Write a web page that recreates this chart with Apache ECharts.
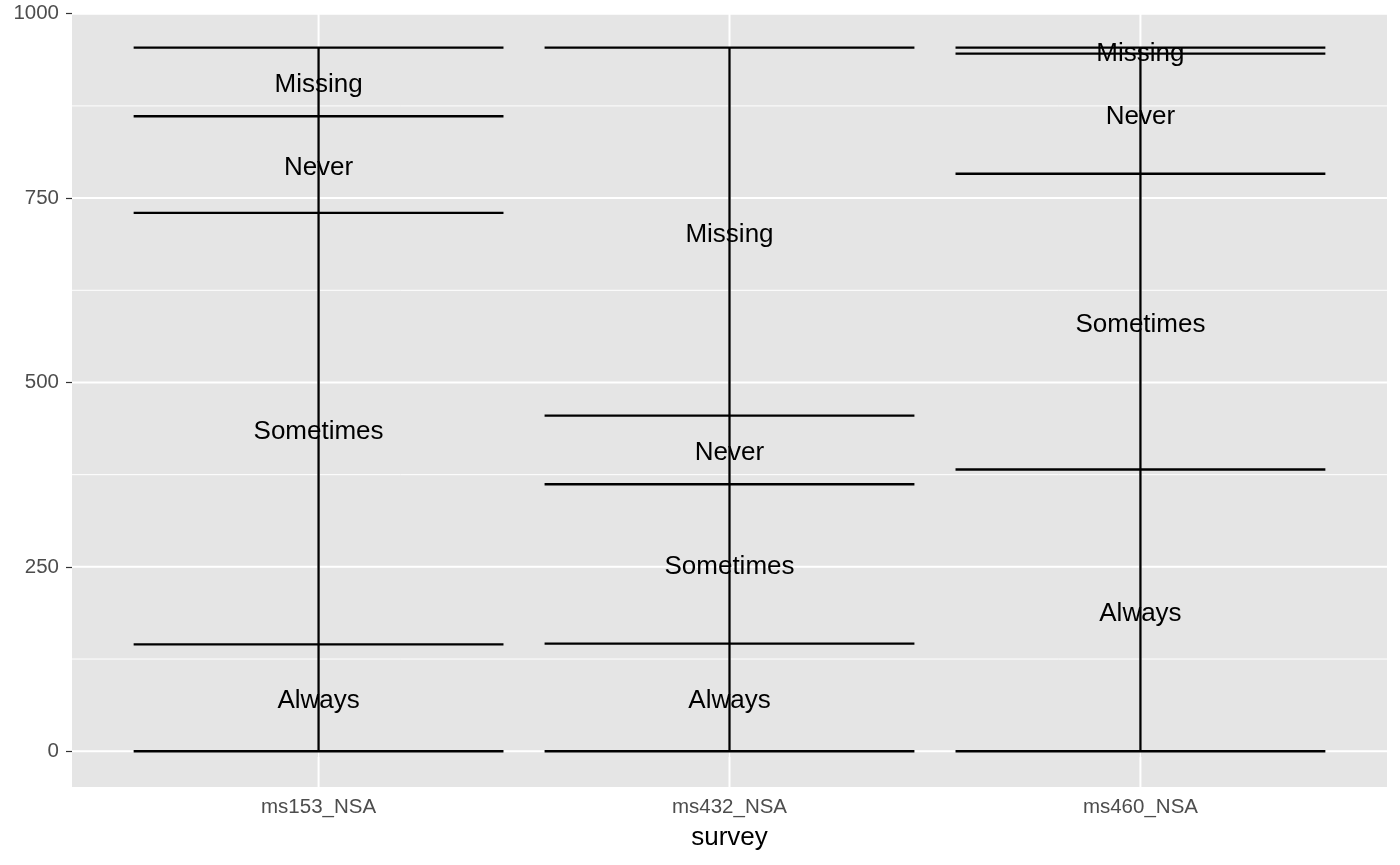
<!DOCTYPE html>
<html>
<head>
<meta charset="utf-8">
<script src="https://cdn.jsdelivr.net/npm/echarts@6/dist/echarts.min.js"></script>
<style>html,body{margin:0;padding:0;background:#fff}#c{width:1400px;height:865px}</style>
</head>
<body>
<div id="c"></div>
<script>
const surveys = ['ms153_NSA', 'ms432_NSA', 'ms460_NSA'];
const responses = ['Always', 'Sometimes', 'Never', 'Missing'];
const always = [145, 146, 382];
const sometimes = [585, 216, 401];
const never = [131, 93, 163];
const missing = [93, 499, 8];
const yTicks = [0, 250, 500, 750, 1000];
const yMinor = [125, 375, 625, 875];

const counts = [always, sometimes, never, missing];
const hLines = [];   // [x, y]
const vLines = [];   // [x, 0, total]
const labels = [];   // [x, mid, text]
surveys.forEach((s, i) => {
  const x = i + 1;
  let cum = 0;
  hLines.push([x, 0]);
  responses.forEach((r, k) => {
    const v = counts[k][i];
    labels.push([x, cum + v / 2, r]);
    cum += v;
    hLines.push([x, cum]);
  });
  vLines.push([x, 0, cum]);
});

const FONT = 'Liberation Sans, Arial, Helvetica, sans-serif';
const chart = echarts.init(document.getElementById('c'));
const xCats = surveys.map((s, i) => i + 1);
// gridline data: [orientation (0 = horizontal, 1 = vertical), value, width]
const gridData = [
  ...yMinor.map(v => [0, v, 1]),
  ...yTicks.map(v => [0, v, 2]),
  ...xCats.map(v => [1, v, 2])
];

chart.setOption({
  animation: false,
  backgroundColor: '#ffffff',
  grid: { left: 72, right: 13, top: 13, bottom: 78, show: true, backgroundColor: '#E5E5E5', borderWidth: 0 },
  xAxis: {
    type: 'value', min: 0.4, max: 3.6,
    name: 'survey', nameLocation: 'middle', nameGap: 38,
    nameTextStyle: { color: '#000', fontSize: 26, fontFamily: FONT },
    axisLine: { show: false },
    splitLine: { show: false },
    axisTick: { show: true, customValues: xCats, length: 6, lineStyle: { color: '#333333', width: 1.2 } },
    axisLabel: { customValues: xCats, margin: 10, color: '#4D4D4D', fontSize: 20.5, fontFamily: FONT,
      formatter: v => surveys[Math.round(v) - 1] || '' }
  },
  yAxis: {
    type: 'value', min: -48.5, max: 1001,
    axisLine: { show: false },
    splitLine: { show: false },
    axisTick: { show: true, customValues: yTicks, length: 6, lineStyle: { color: '#333333', width: 1.2 } },
    axisLabel: { customValues: yTicks, margin: 13, color: '#4D4D4D', fontSize: 20.5, fontFamily: FONT,
      formatter: v => String(v) }
  },
  series: [
    {
      type: 'custom', z: 1, silent: true,
      data: gridData,
      renderItem: (params, api) => {
        const cs = params.coordSys;
        const o = api.value(0), v = api.value(1), w = api.value(2);
        let shape;
        if (o === 0) {
          const p = api.coord([1, v]);
          shape = { x1: cs.x, y1: p[1], x2: cs.x + cs.width, y2: p[1] };
        } else {
          const p = api.coord([v, 0]);
          shape = { x1: p[0], y1: cs.y, x2: p[0], y2: cs.y + cs.height };
        }
        return { type: 'line', shape, style: { stroke: '#FFFFFF', lineWidth: w } };
      }
    },
    {
      type: 'custom', z: 3, silent: true,
      data: labels,
      renderItem: (params, api) => {
        const p = api.coord([api.value(0), api.value(1)]);
        return {
          type: 'text', x: p[0], y: p[1] + 3,
          style: { text: labels[params.dataIndex][2], fill: '#000', fontSize: 26, fontFamily: FONT,
            align: 'center', verticalAlign: 'middle' }
        };
      }
    },
    {
      type: 'custom', z: 4, silent: true,
      data: hLines,
      renderItem: (params, api) => {
        const x = api.value(0), y = api.value(1);
        const a = api.coord([x - 0.45, y]);
        const b = api.coord([x + 0.45, y]);
        return { type: 'line', shape: { x1: a[0], y1: a[1], x2: b[0], y2: b[1] },
          style: { stroke: '#000', lineWidth: 2.3 } };
      }
    },
    {
      type: 'custom', z: 4, silent: true,
      data: vLines,
      renderItem: (params, api) => {
        const x = api.value(0);
        const a = api.coord([x, api.value(1)]);
        const b = api.coord([x, api.value(2)]);
        return { type: 'line', shape: { x1: a[0], y1: a[1], x2: b[0], y2: b[1] },
          style: { stroke: '#000', lineWidth: 2.3 } };
      }
    }
  ]
});
</script>
</body>
</html>
